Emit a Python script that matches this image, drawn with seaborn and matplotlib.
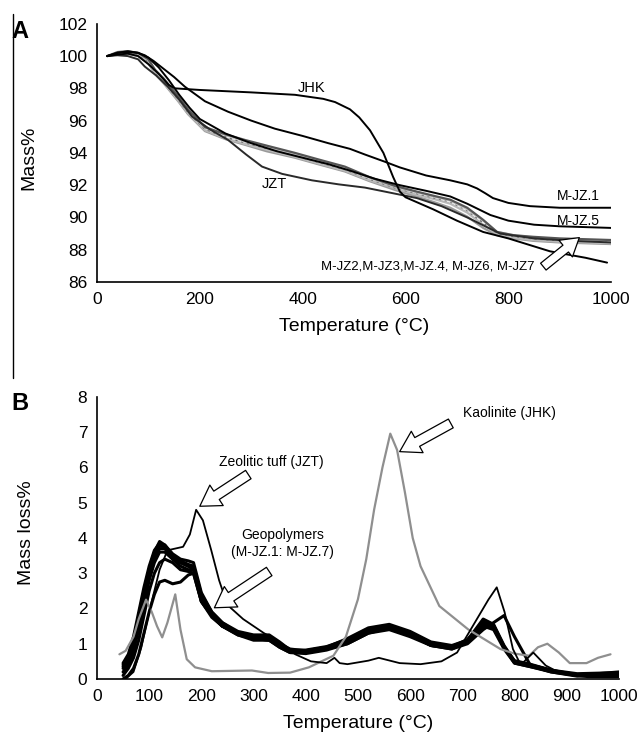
import matplotlib
matplotlib.use("Agg")
import matplotlib.pyplot as plt
from matplotlib.lines import Line2D
import seaborn as sns

# ---------------------------------------------------------------
# Panel A: TGA curves (Mass% vs temperature)
# ---------------------------------------------------------------
t_jhk_a = [20, 40, 60, 80, 100, 120, 140, 152, 200, 300, 385, 440, 463, 492,
           510, 531, 557, 576, 589, 600, 654, 700, 751, 800, 881, 950, 992]
m_jhk_a = [100.0, 100.1, 100.15, 100.0, 99.5, 98.9, 98.2, 98.0, 97.9, 97.75,
           97.6, 97.35, 97.15, 96.7, 96.2, 95.4, 94.0, 92.5, 91.6, 91.25, 90.5,
           89.8, 89.1, 88.7, 87.9, 87.5, 87.2]

t_mjz1_a = [20, 40, 60, 80, 93, 110, 126, 150, 171, 210, 255, 300, 346, 400,
            450, 492, 521, 560, 589, 640, 687, 720, 739, 755, 770, 800, 842,
            900, 1000]
m_mjz1_a = [100.0, 100.2, 100.25, 100.2, 100.05, 99.7, 99.3, 98.7, 98.1, 97.2,
            96.55, 96.0, 95.5, 95.05, 94.6, 94.25, 93.9, 93.45, 93.1, 92.6,
            92.3, 92.05, 91.8, 91.5, 91.2, 90.9, 90.7, 90.6, 90.6]

t_mjz5_a = [20, 40, 60, 80, 100, 120, 140, 160, 180, 200, 250, 300, 350, 400,
            450, 492, 540, 589, 640, 687, 720, 765, 800, 850, 900, 1000]
m_mjz5_a = [100.0, 100.2, 100.3, 100.2, 99.9, 99.3, 98.5, 97.6, 96.8, 96.1,
            95.2, 94.6, 94.1, 93.7, 93.3, 92.9, 92.4, 92.0, 91.65, 91.3, 90.85,
            90.15, 89.8, 89.55, 89.45, 89.35]

t_jzt_a = [20, 40, 60, 80, 93, 115, 138, 160, 185, 220, 255, 290, 321, 360,
           418, 470, 521, 560, 622, 670, 720, 784, 850, 920, 1000]
m_jzt_a = [100.0, 100.05, 100.0, 99.8, 99.35, 98.8, 98.1, 97.3, 96.25, 95.45,
           94.8, 93.9, 93.15, 92.7, 92.3, 92.05, 91.85, 91.6, 91.2, 90.7, 90.0,
           89.0, 88.7, 88.55, 88.45]

# geopolymer cluster M-JZ2, M-JZ3, M-JZ.4, M-JZ6, M-JZ7
t_cluster_a = [20, 40, 60, 80, 100, 113, 130, 158, 177, 210, 250, 288, 330, 385,
               430, 482, 530, 580, 622, 660, 687, 720, 751, 778, 810, 848, 900,
               1000]
m_mjz2_a = [100.0, 100.25, 100.3, 100.2, 99.8, 99.15, 98.6, 97.5, 96.7, 95.6,
            95.15, 94.8, 94.45, 94.0, 93.6, 93.15, 92.5, 91.95, 91.6, 91.3, 91.1,
            90.6, 89.85, 89.1, 88.9, 88.8, 88.7, 88.6]
m_mjz3_a = [100.0, 100.2, 100.25, 100.1, 99.7, 99.05, 98.45, 97.35, 96.55, 95.5,
            95.0, 94.65, 94.3, 93.85, 93.45, 93.0, 92.4, 91.85, 91.5, 91.2, 91.0,
            90.45, 89.7, 89.05, 88.85, 88.7, 88.6, 88.5]
m_mjz4_a = [100.0, 100.15, 100.2, 100.05, 99.6, 98.95, 98.35, 97.25, 96.45, 95.4,
            94.9, 94.55, 94.2, 93.75, 93.35, 92.9, 92.3, 91.8, 91.4, 91.1, 90.85,
            90.3, 89.55, 88.95, 88.75, 88.6, 88.5, 88.4]
m_mjz6_a = [100.0, 100.2, 100.3, 100.15, 99.75, 99.1, 98.5, 97.4, 96.6, 95.55,
            95.1, 94.7, 94.4, 93.9, 93.5, 93.05, 92.45, 91.9, 91.55, 91.25, 91.05,
            90.5, 89.8, 89.1, 88.9, 88.75, 88.65, 88.55]
m_mjz7_a = [100.0, 100.1, 100.15, 100.0, 99.55, 98.9, 98.3, 97.2, 96.4, 95.35,
            94.85, 94.5, 94.1, 93.7, 93.3, 92.85, 92.25, 91.7, 91.3, 90.9, 90.6,
            90.05, 89.35, 88.9, 88.7, 88.55, 88.45, 88.35]

# ---------------------------------------------------------------
# Panel B: DTG curves (Mass loss% vs temperature)
# ---------------------------------------------------------------
t_jhk_b = [43, 55, 70, 80, 94, 105, 115, 125, 135, 150, 160, 172, 188, 220, 297,
           328, 370, 406, 453, 477, 500, 516, 531, 547, 562, 575, 590, 605, 620,
           656, 711, 773, 800, 828, 845, 863, 885, 906, 938, 960, 984]
v_jhk_b = [0.7, 0.8, 1.2, 1.7, 2.25, 1.9, 1.5, 1.18, 1.6, 2.4, 1.4, 0.56, 0.33,
           0.22, 0.24, 0.17, 0.18, 0.33, 0.66, 1.2, 2.26, 3.4, 4.8, 6.0, 6.96,
           6.5, 5.3, 4.0, 3.2, 2.07, 1.41, 0.85, 0.72, 0.66, 0.9, 1.0, 0.75,
           0.45, 0.45, 0.6, 0.7]

t_jzt_b = [55, 70, 85, 100, 110, 120, 135, 150, 165, 178, 190, 203, 219, 234,
           250, 280, 320, 350, 380, 410, 440, 455, 465, 480, 520, 540, 580, 620,
           660, 690, 720, 750, 766, 781, 797, 812, 836, 860, 890, 940, 1000]
v_jzt_b = [0.0, 0.2, 0.9, 1.9, 2.5, 3.1, 3.65, 3.7, 3.75, 4.1, 4.8, 4.5, 3.65,
           2.8, 2.1, 1.7, 1.3, 1.05, 0.7, 0.5, 0.45, 0.6, 0.45, 0.42, 0.52, 0.6,
           0.45, 0.42, 0.5, 0.75, 1.5, 2.25, 2.6, 1.9, 0.85, 0.4, 0.75, 0.38,
           0.15, 0.05, 0.05]

t_gp_b = [50, 60, 70, 80, 90, 100, 110, 120, 130, 145, 160, 175, 185, 200, 220,
          240, 270, 300, 330, 350, 370, 400, 440, 480, 520, 560, 600, 640, 680,
          710, 740, 760, 780, 800, 830, 870, 920, 1000]
v_gp1_b = [0.4, 0.6, 1.1, 1.8, 2.5, 3.1, 3.6, 3.9, 3.8, 3.5, 3.3, 3.2, 3.2, 2.4,
           1.9, 1.6, 1.3, 1.2, 1.2, 1.0, 0.8, 0.8, 0.9, 1.1, 1.4, 1.5, 1.3, 1.0,
           0.9, 1.1, 1.6, 1.5, 0.9, 0.5, 0.4, 0.25, 0.12, 0.15]
v_gp2_b = [0.3, 0.5, 0.9, 1.6, 2.3, 2.9, 3.4, 3.7, 3.7, 3.4, 3.2, 3.1, 3.1, 2.3,
           1.8, 1.5, 1.25, 1.15, 1.15, 0.95, 0.8, 0.75, 0.85, 1.05, 1.35, 1.45,
           1.25, 0.95, 0.85, 1.05, 1.5, 1.4, 0.85, 0.45, 0.35, 0.22, 0.1, 0.12]
v_gp3_b = [0.2, 0.4, 0.8, 1.4, 2.1, 2.8, 3.3, 3.6, 3.6, 3.4, 3.3, 3.2, 3.1, 2.2,
           1.75, 1.5, 1.3, 1.2, 1.2, 1.0, 0.85, 0.8, 0.9, 1.15, 1.45, 1.55, 1.35,
           1.05, 0.95, 1.1, 1.7, 1.55, 0.95, 0.5, 0.38, 0.2, 0.1, 0.2]
v_gp4_b = [0.35, 0.55, 1.0, 1.7, 2.4, 3.0, 3.5, 3.8, 3.75, 3.45, 3.35, 3.25, 3.2,
           2.35, 1.85, 1.55, 1.3, 1.15, 1.1, 0.95, 0.78, 0.78, 0.88, 1.1, 1.38,
           1.48, 1.28, 1.0, 0.92, 1.08, 1.55, 1.45, 0.9, 0.48, 0.37, 0.23, 0.12,
           0.14]
v_gp5_b = [0.1, 0.3, 0.6, 1.1, 1.8, 2.5, 3.0, 3.3, 3.4, 3.3, 3.1, 3.05, 3.0, 2.2,
           1.8, 1.5, 1.25, 1.1, 1.1, 0.9, 0.75, 0.75, 0.85, 1.0, 1.3, 1.4, 1.2,
           0.95, 0.85, 1.0, 1.4, 1.6, 1.8, 1.2, 0.4, 0.25, 0.1, 0.1]
v_gp6_b = [0.0, 0.1, 0.3, 0.7, 1.3, 1.9, 2.4, 2.75, 2.8, 2.7, 2.75, 2.95, 3.0,
           2.2, 1.8, 1.5, 1.3, 1.15, 1.1, 0.9, 0.75, 0.72, 0.82, 1.0, 1.3, 1.45,
           1.25, 0.95, 0.88, 1.05, 1.5, 1.45, 0.9, 0.45, 0.35, 0.2, 0.08, 0.1]
v_gp7_b = [0.45, 0.7, 1.2, 1.9, 2.6, 3.2, 3.65, 3.85, 3.8, 3.55, 3.4, 3.35, 3.3,
           2.45, 1.9, 1.6, 1.35, 1.25, 1.25, 1.05, 0.82, 0.82, 0.92, 1.12, 1.42,
           1.52, 1.32, 1.02, 0.92, 1.12, 1.62, 1.52, 0.92, 0.52, 0.42, 0.25, 0.15,
           0.18]

x_ticks_a = [0, 200, 400, 600, 800, 1000]
y_ticks_a = [86, 88, 90, 92, 94, 96, 98, 100, 102]
x_ticks_b = [0, 100, 200, 300, 400, 500, 600, 700, 800, 900, 1000]
y_ticks_b = [0, 1, 2, 3, 4, 5, 6, 7, 8]


def style_axes(ax):
    sns.despine(ax=ax)
    for s in ("left", "bottom"):
        ax.spines[s].set_linewidth(1.2)
        ax.spines[s].set_color("black")
    ax.tick_params(direction="out", length=4, width=1.2, colors="black",
                   labelcolor="black", labelsize=12.5, pad=3)


def hollow_arrow(ax, xy_tail, xy_head, scale=16):
    ax.annotate("", xy=xy_head, xytext=xy_tail,
                arrowprops=dict(arrowstyle="simple,head_length=0.9,head_width=1.1,tail_width=0.45",
                                fc="white", ec="black", lw=0.9,
                                mutation_scale=scale, shrinkA=0, shrinkB=0))


sns.set_style("white")
plt.rcParams["font.family"] = ["Liberation Sans", "DejaVu Sans"]
plt.rcParams["text.color"] = "black"
plt.rcParams["axes.labelcolor"] = "black"

fig = plt.figure(figsize=(6.38, 7.44), dpi=100)
ax_a = fig.add_axes([0.152, 0.621, 0.806, 0.347])
ax_b = fig.add_axes([0.152, 0.0874, 0.818, 0.379])

# ---- panel A ----
cluster = [(m_mjz7_a, "#9a9a9a", "-"), (m_mjz4_a, "#b8b8b8", "-"),
           (m_mjz3_a, "#6e6e6e", ":"), (m_mjz6_a, "#c4c4c4", "-"),
           (m_mjz2_a, "#555555", "-")]
for vals, col, ls in cluster:
    sns.lineplot(x=t_cluster_a, y=vals, ax=ax_a, color=col, lw=1.6,
                 linestyle=ls, estimator=None)
sns.lineplot(x=t_jzt_a, y=m_jzt_a, ax=ax_a, color="#2a2a2a", lw=1.4, estimator=None)
sns.lineplot(x=t_mjz5_a, y=m_mjz5_a, ax=ax_a, color="black", lw=1.4, estimator=None)
sns.lineplot(x=t_mjz1_a, y=m_mjz1_a, ax=ax_a, color="black", lw=1.4, estimator=None)
sns.lineplot(x=t_jhk_a, y=m_jhk_a, ax=ax_a, color="black", lw=1.4, estimator=None)

ax_a.set_xlim(0, 1000)
ax_a.set_ylim(86, 102)
ax_a.set_xticks(x_ticks_a)
ax_a.set_yticks(y_ticks_a)
style_axes(ax_a)
ax_a.set_xlabel("Temperature (°C)", fontsize=14, labelpad=8)
ax_a.set_ylabel("Mass%", fontsize=14)
ax_a.yaxis.set_label_coords(-0.115, 0.48)

ax_a.text(418, 98.05, "JHK", fontsize=10.5, ha="center", va="center")
ax_a.text(345, 92.1, "JZT", fontsize=10.5, ha="center", va="center")
ax_a.text(937, 91.35, "M-JZ.1", fontsize=10, ha="center", va="center")
ax_a.text(937, 89.8, "M-JZ.5", fontsize=10, ha="center", va="center")
ax_a.text(850, 86.95, "M-JZ2,M-JZ3,M-JZ.4, M-JZ6, M-JZ7", fontsize=9.5,
          ha="right", va="center")
hollow_arrow(ax_a, (868, 86.95), (938, 88.75), scale=14)

# ---- panel B ----
for vals in (v_gp6_b, v_gp5_b, v_gp3_b, v_gp2_b, v_gp4_b, v_gp1_b, v_gp7_b):
    sns.lineplot(x=t_gp_b, y=vals, ax=ax_b, color="black", lw=2.2, estimator=None)
sns.lineplot(x=t_jhk_b, y=v_jhk_b, ax=ax_b, color="#8f8f8f", lw=1.6, estimator=None)
sns.lineplot(x=t_jzt_b, y=v_jzt_b, ax=ax_b, color="black", lw=1.3, estimator=None)

ax_b.set_xlim(0, 1000)
ax_b.set_ylim(0, 8)
ax_b.set_xticks(x_ticks_b)
ax_b.set_yticks(y_ticks_b)
style_axes(ax_b)
ax_b.set_xlabel("Temperature (°C)", fontsize=14, labelpad=8)
ax_b.set_ylabel("Mass loss%", fontsize=14)
ax_b.yaxis.set_label_coords(-0.118, 0.52)

ax_b.text(790, 7.55, "Kaolinite (JHK)", fontsize=10, ha="center", va="center")
hollow_arrow(ax_b, (678, 7.25), (580, 6.45), scale=16)
ax_b.text(335, 6.15, "Zeolitic tuff (JZT)", fontsize=10, ha="center", va="center")
hollow_arrow(ax_b, (290, 5.8), (197, 4.9), scale=16)
ax_b.text(355, 3.85, "Geopolymers\n(M-JZ.1: M-JZ.7)", fontsize=10,
          ha="center", va="center", linespacing=1.3)
hollow_arrow(ax_b, (330, 3.05), (225, 2.02), scale=16)

# panel letters and left border line
fig.text(0.018, 0.958, "A", fontsize=17, fontweight="bold", va="center")
fig.text(0.018, 0.458, "B", fontsize=17, fontweight="bold", va="center")
fig.add_artist(Line2D([13 / 638, 13 / 638], [1 - 14 / 744, 1 - 378 / 744],
                      color="black", lw=1.0))

fig.savefig("out.png", dpi=100)
